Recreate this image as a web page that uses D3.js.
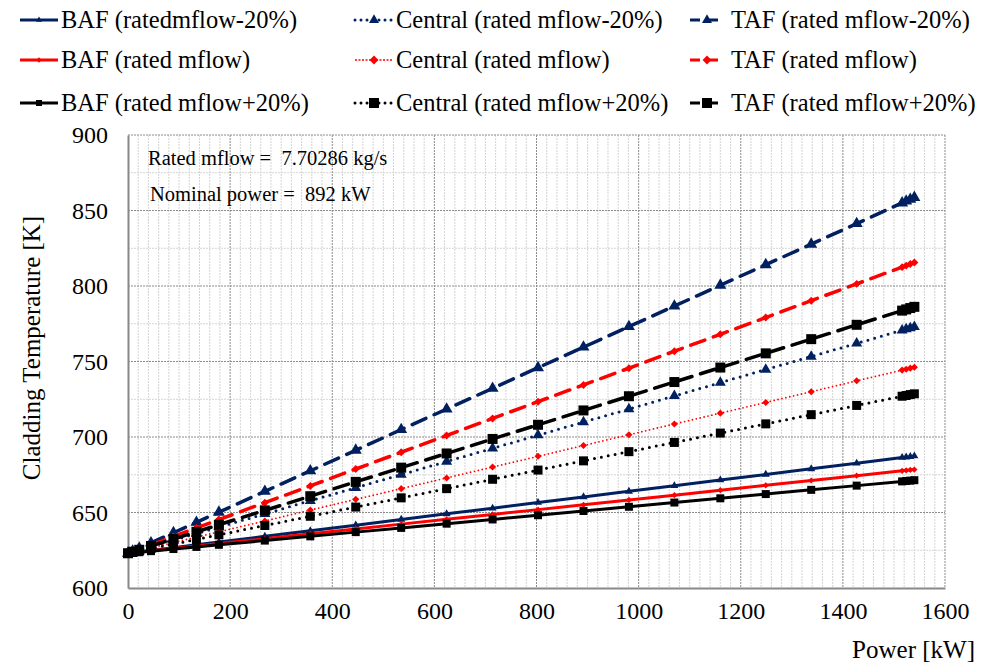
<!DOCTYPE html>
<meta charset="UTF-8">
<style>
body { margin: 0; background: #fff; }
svg text { font-family: "Liberation Serif", "Times New Roman", serif; fill: #000; }
</style>
<body>
<script src="https://d3js.org/d3.v7.min.js"></script>
<script>
// power levels (kW)
var power = [0, 9, 22, 45, 89, 134, 178, 268, 357, 446, 535, 624, 714, 803, 892, 981, 1070, 1160, 1249, 1338, 1427, 1516, 1524, 1532, 1540];

// cladding temperatures (K)
var bafLow  = [623, 623.4, 623.9, 624.9, 626.7, 628.6, 630.4, 634.2, 637.9, 641.6, 645.4, 649.1, 652.8, 656.6, 660.3, 664.0, 667.7, 671.5, 675.2, 678.9, 682.6, 686.4, 686.7, 687.0, 687.4];
var bafRated = [623, 623.3, 623.8, 624.6, 626.2, 627.8, 629.4, 632.6, 635.9, 639.1, 642.3, 645.5, 648.7, 651.9, 655.1, 658.3, 661.5, 664.8, 668.0, 671.2, 674.4, 677.6, 677.9, 678.2, 678.4];
var bafHigh = [623, 623.3, 623.7, 624.4, 625.8, 627.2, 628.6, 631.4, 634.2, 637.0, 639.8, 642.6, 645.4, 648.2, 651.0, 653.8, 656.6, 659.4, 662.2, 665.0, 667.8, 670.6, 670.9, 671.1, 671.4];
var cenLow  = [623, 623.9, 625.1, 627.4, 631.7, 636.1, 640.3, 649.1, 657.8, 666.4, 675.1, 683.8, 692.5, 701.2, 709.9, 718.5, 727.2, 736.0, 744.7, 753.3, 762.0, 770.7, 771.4, 772.2, 773.0];
var cenRated = [623, 623.7, 624.8, 626.6, 630.1, 633.7, 637.2, 644.4, 651.6, 658.7, 665.8, 672.9, 680.1, 687.2, 694.4, 701.5, 708.6, 715.8, 722.9, 730.0, 737.2, 744.3, 744.9, 745.6, 746.2];
var cenHigh = [623, 623.6, 624.5, 626.1, 629.1, 632.2, 635.2, 641.4, 647.5, 653.6, 659.7, 665.8, 672.0, 678.1, 684.2, 690.3, 696.4, 702.6, 708.7, 714.8, 720.9, 727.0, 727.5, 728.1, 728.6];
var tafLow  = [623, 624.4, 626.4, 629.9, 636.6, 643.5, 650.2, 664.0, 677.6, 691.2, 704.9, 718.5, 732.2, 745.9, 759.5, 773.1, 786.7, 800.5, 814.1, 827.7, 841.3, 855.0, 856.2, 857.4, 858.6];
var tafRated = [623, 624.1, 625.8, 628.6, 634.1, 639.8, 645.3, 656.5, 667.6, 678.8, 689.9, 701.0, 712.3, 723.4, 734.5, 745.6, 756.8, 768.0, 779.1, 790.3, 801.4, 812.5, 813.5, 814.5, 815.5];
var tafHigh = [623, 624.0, 625.3, 627.8, 632.4, 637.2, 641.9, 651.4, 660.8, 670.3, 679.7, 689.1, 698.7, 708.1, 717.6, 727.0, 736.4, 746.0, 755.4, 764.8, 774.3, 783.7, 784.5, 785.4, 786.2];

var xTicks = [0, 200, 400, 600, 800, 1000, 1200, 1400, 1600];
var yTicks = [600, 650, 700, 750, 800, 850, 900];

var navy = "#002060", red = "#ff0000", black = "#000000";

// legend order: column by column (BAF, Central, TAF), rows = flow
var series = [
  {name: "BAF (ratedmflow-20%)",     values: bafLow,   color: navy,  style: "solid",  shape: "tri", size: 8, w: 3},
  {name: "BAF (rated mflow)",        values: bafRated, color: red,   style: "solid",  shape: "dia", size: 7, w: 3},
  {name: "BAF (rated mflow+20%)",    values: bafHigh,  color: black, style: "solid",  shape: "sq",  size: 8, w: 3},
  {name: "Central (rated mflow-20%)",  values: cenLow,   color: navy,  style: "dot",  shape: "tri", size: 11, w: 3},
  {name: "Central (rated mflow)",      values: cenRated, color: red,   style: "dot2", shape: "dia", size: 8,  w: 1.8},
  {name: "Central (rated mflow+20%)",  values: cenHigh,  color: black, style: "dot",  shape: "sq",  size: 9,  w: 3},
  {name: "TAF (rated mflow-20%)",    values: tafLow,   color: navy,  style: "dash", shape: "tri", size: 12, w: 3.5},
  {name: "TAF (rated mflow)",        values: tafRated, color: red,   style: "dash", shape: "dia", size: 9,  w: 3.5},
  {name: "TAF (rated mflow+20%)",    values: tafHigh,  color: black, style: "dash", shape: "sq",  size: 10, w: 3.5}
];

var W = 996, H = 663;
var margin = {top: 135, right: 51, bottom: 75, left: 128};
var width = W - margin.left - margin.right,
    height = H - margin.top - margin.bottom;

var svg = d3.select("body").append("svg")
    .attr("width", W)
    .attr("height", H);

var g = svg.append("g")
    .attr("transform", "translate(" + margin.left + "," + margin.top + ")");

var x = d3.scaleLinear().domain([0, 1600]).range([0, width]);
var y = d3.scaleLinear().domain([600, 900]).range([height, 0]);

// minor grid
g.append("g").selectAll("line")
    .data(d3.range(20, 1600, 20).filter(function(d) { return d % 200 != 0; }))
  .enter().append("line")
    .attr("x1", x).attr("x2", x)
    .attr("y1", 0).attr("y2", height)
    .attr("stroke", "#d4d4d4").attr("stroke-width", 1)
    .attr("stroke-dasharray", "2,1");
g.append("g").selectAll("line")
    .data([625, 675, 725, 775, 825, 875])
  .enter().append("line")
    .attr("y1", y).attr("y2", y)
    .attr("x1", 0).attr("x2", width)
    .attr("stroke", "#d4d4d4").attr("stroke-width", 1)
    .attr("stroke-dasharray", "2,1");

// major grid
g.append("g").selectAll("line")
    .data(xTicks.slice(1))
  .enter().append("line")
    .attr("x1", x).attr("x2", x)
    .attr("y1", 0).attr("y2", height)
    .attr("stroke", "#8c8c8c").attr("stroke-width", 1)
    .attr("stroke-dasharray", "2,1");
g.append("g").selectAll("line")
    .data(yTicks.slice(1))
  .enter().append("line")
    .attr("y1", y).attr("y2", y)
    .attr("x1", 0).attr("x2", width)
    .attr("stroke", "#8c8c8c").attr("stroke-width", 1)
    .attr("stroke-dasharray", "2,1");

// axes
var xAxis = g.append("g")
    .attr("transform", "translate(0," + height + ")")
    .call(d3.axisBottom(x).tickValues(xTicks).tickFormat(d3.format("d")).tickSize(0).tickPadding(14));
var yAxis = g.append("g")
    .call(d3.axisLeft(y).tickValues(yTicks).tickSize(0).tickPadding(20));
[xAxis, yAxis].forEach(function(a) {
  a.attr("font-family", null);
  a.select(".domain").attr("stroke", "#888").attr("stroke-width", 2);
  a.selectAll("text").style("font-size", "24px").attr("font-family", "Liberation Serif");
});

// axis titles
svg.append("text")
    .attr("transform", "translate(40,348) rotate(-90)")
    .attr("text-anchor", "middle")
    .style("font-size", "25px")
    .text("Cladding Temperature [K]");
svg.append("text")
    .attr("x", 975).attr("y", 658)
    .attr("text-anchor", "end")
    .style("font-size", "25px")
    .text("Power [kW]");

// annotation
svg.append("text").attr("x", 148).attr("y", 165).style("font-size", "20.5px")
    .text("Rated mflow =  7.70286 kg/s").attr("xml:space", "preserve");
svg.append("text").attr("x", 150).attr("y", 201).style("font-size", "20.5px")
    .text("Nominal power =  892 kW").attr("xml:space", "preserve");

function dashOf(s) {
  if (s.style == "dot") return "0,7";
  if (s.style == "dot2") return "0,4";
  if (s.style == "dash") return "15,9";
  return null;
}

function symbolOf(s) {
  var t = s.shape == "tri" ? d3.symbolTriangle : s.shape == "dia" ? d3.symbolDiamond2 : d3.symbolSquare;
  var area = s.shape == "tri" ? s.size * s.size * 0.433 : s.shape == "dia" ? s.size * s.size * 0.5 : s.size * s.size;
  return d3.symbol().type(t).size(area);
}

var line = d3.line()
    .x(function(d) { return x(d[0]); })
    .y(function(d) { return y(d[1]); });

series.forEach(function(s) {
  var pts = power.map(function(p, i) { return [p, s.values[i]]; });
  var grp = g.append("g");
  grp.append("path")
      .datum(pts)
      .attr("d", line)
      .attr("fill", "none")
      .attr("stroke", s.color)
      .attr("stroke-width", s.w)
      .attr("stroke-linecap", s.style == "solid" ? "butt" : "round")
      .attr("stroke-dasharray", dashOf(s));
  grp.selectAll("path.mk")
      .data(pts)
    .enter().append("path")
      .attr("class", "mk")
      .attr("d", symbolOf(s)())
      .attr("transform", function(d) { return "translate(" + x(d[0]) + "," + y(d[1]) + ")"; })
      .attr("fill", s.color);
});

// legend
var colX = [20, 355, 690], textX = [61, 396, 731], rowY = [20, 60, 103];
var legLen = [38, 38, 34];
series.forEach(function(s, i) {
  var c = Math.floor(i / 3), r = i % 3;
  var lg = svg.append("g");
  lg.append("line")
      .attr("x1", colX[c]).attr("x2", colX[c] + legLen[c])
      .attr("y1", rowY[r]).attr("y2", rowY[r])
      .attr("stroke", s.color)
      .attr("stroke-width", s.style == "dot2" ? 1.5 : 3)
      .attr("stroke-dasharray", s.style == "dot" ? "0,6" : s.style == "dot2" ? "2,1.5" : s.style == "dash" ? "10,8" : null)
      .attr("stroke-linecap", s.style == "dot" ? "round" : "butt");
  var ls = {shape: s.shape, size: c == 0 ? 6 : 10};
  lg.append("path")
      .attr("d", symbolOf(ls)())
      .attr("transform", "translate(" + (colX[c] + legLen[c] / 2) + "," + rowY[r] + ")")
      .attr("fill", s.color);
  lg.append("text")
      .attr("x", textX[c]).attr("y", rowY[r] + 8)
      .style("font-size", "24.5px")
      .text(s.name);
});
</script>
</body>
